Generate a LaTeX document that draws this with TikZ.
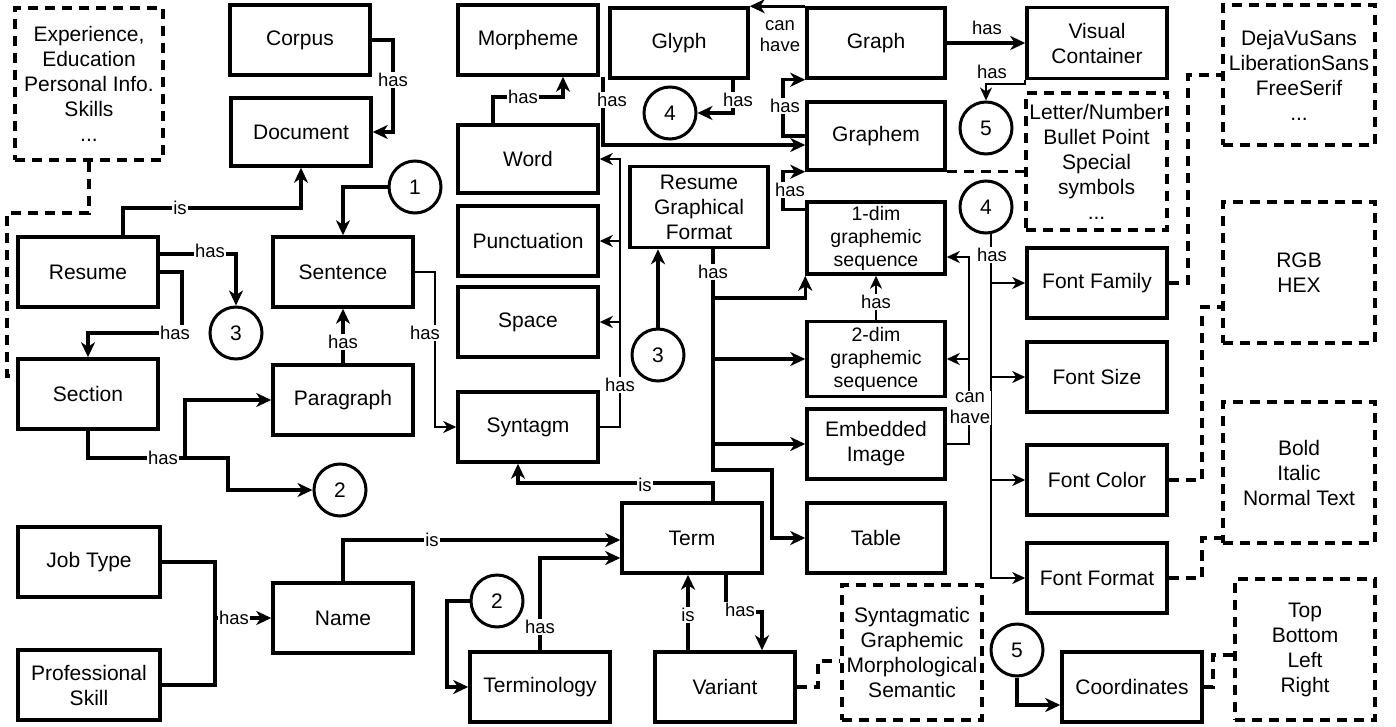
\documentclass[tikz,border=0pt]{standalone}
\usepackage{fontspec}
\setmainfont{Liberation Sans}
\usetikzlibrary{arrows.meta}
\newcommand{\boxfont}{\fontsize{21}{25}\selectfont}
\newcommand{\sboxfont}{\fontsize{19.5}{23}\selectfont}
\newcommand{\labfont}{\fontsize{18.5}{21}\selectfont}
\tikzset{
 box/.style={draw, line width=3.5pt, minimum width=140pt, minimum height=70pt, align=center, font=\boxfont, inner sep=2pt},
 dbox/.style={box, dash pattern=on 10pt off 7pt},
 circ/.style={draw, circle, line width=3pt, minimum size=52pt, inner sep=0pt, font=\boxfont},
 conn/.style={line width=3.2pt, -{Stealth[length=15pt,width=14pt,inset=4.5pt]}},
 thinconn/.style={line width=2.4pt, -{Stealth[length=13pt,width=12pt,inset=4pt]}},
 dline/.style={line width=3.5pt, dash pattern=on 10pt off 7pt},
 lab/.style={fill=white, inner sep=1pt, font=\labfont, align=center},
 plainlab/.style={inner sep=0pt, font=\labfont, align=center},
}
\begin{document}
\begin{tikzpicture}[x=1pt,y=-1pt]
\useasboundingbox (0,0) rectangle (1396,727);
% boxes
\node[dbox, minimum width=148pt, minimum height=152pt] (exp) at (89,84) {Experience,\\Education\\Personal Info.\\Skills\\...};
\node[box] (corpus) at (300,40) {Corpus};
\node[box, minimum height=68pt] (document) at (301,132) {Document};
\node[box] (resume) at (88,272) {Resume};
\node[box] (section) at (88,394) {Section};
\node[box] (sentence) at (343,272) {Sentence};
\node[box] (paragraph) at (343,400) {Paragraph};
\node[box] (morpheme) at (528,40) {Morpheme};
\node[box, minimum height=68pt] (word) at (528,159) {Word};
\node[box] (punct) at (528,241) {Punctuation};
\node[box] (space) at (528,322) {Space};
\node[box] (syntagm) at (528,427) {Syntagm};
\node[box, minimum width=138pt] (glyph) at (679,43) {Glyph};
\node[box, minimum width=138pt] (graph) at (876,43) {Graph};
\node[box, minimum width=138pt, minimum height=68pt] (graphem) at (876,136) {Graphem};
\node[box, minimum width=138pt, minimum height=81pt] (rgf) at (699,207) {Resume\\Graphical\\Format};
\node[box, minimum width=138pt, minimum height=72pt, font=\sboxfont] (onedim) at (876,238) {1-dim\\graphemic\\sequence};
\node[box, minimum width=138pt, minimum height=75pt, font=\sboxfont] (twodim) at (876,359) {2-dim\\graphemic\\sequence};
\node[box, minimum width=138pt] (embedded) at (876,444) {Embedded\\Image};
\node[box, minimum width=138pt] (table) at (876,538) {Table};
\node[box] (term) at (692,538) {Term};
\node[box] (variant) at (725,687) {Variant};
\node[box] (terminology) at (540,687) {Terminology};
\node[box] (name) at (343,618) {Name};
\node[box, minimum width=142pt] (jobtype) at (89,562) {Job Type};
\node[box, minimum width=142pt] (profskill) at (89,685) {Professional\\Skill};
\node[box, minimum height=71pt] (vc) at (1097,43) {Visual\\Container};
\node[box] (fontfamily) at (1097,283) {Font Family};
\node[box] (fontsize) at (1097,377) {Font Size};
\node[box] (fontcolor) at (1097,480) {Font Color};
\node[box] (fontformat) at (1097,578) {Font Format};
\node[box] (coordinates) at (1132,687) {Coordinates};
\node[dbox, minimum width=141pt, minimum height=137pt] (letter) at (1096.5,161.5) {Letter/Number\\Bullet Point\\Special\\symbols\\...};
\node[dbox, minimum width=152pt, minimum height=140pt] (dejavu) at (1299,75) {DejaVuSans\\LiberationSans\\FreeSerif\\...};
\node[dbox, minimum width=152pt, minimum height=141pt] (rgb) at (1299,272.5) {RGB\\HEX};
\node[dbox, minimum width=152pt, minimum height=141pt] (bold) at (1299,472.5) {Bold\\Italic\\Normal Text};
\node[dbox, minimum width=140pt, minimum height=141pt] (topbox) at (1305,649.5) {Top\\Bottom\\Left\\Right};
\node[dbox, minimum width=140pt, minimum height=135pt] (syntagmatic) at (912,652.5) {Syntagmatic\\Graphemic\\Morphological\\Semantic};
% circles
\node[circ] (c1) at (415,187) {1};
\node[circ] (c3a) at (236,333) {3};
\node[circ] (c2a) at (340,490) {2};
\node[circ] (c4a) at (670,113) {4};
\node[circ] (c3b) at (658,355) {3};
\node[circ] (c5a) at (986,128) {5};
\node[circ] (c4b) at (986,207) {4};
\node[circ] (c2b) at (497,601) {2};
\node[circ] (c5b) at (1017,650) {5};
% connectors
\draw[conn] (corpus.east) -| (393,100) |- (document.east);
\draw[conn] ([xshift=35pt]resume.north) |- (200,208) -| (document.south);
\draw[conn] ([yshift=18pt]resume.east) -| (c3a.north);
\draw[conn] (resume.east) -| (182,333) -| (section.north);
\coordinate (sj) at (185,458);
\draw[conn] (section.south) |- (sj) |- (paragraph.west);
\draw[conn] (sj) -| (228,470) |- (c2a.west);
\draw[conn] (paragraph.north) -- (sentence.south);
\draw[conn] (c1.west) -| (sentence.north);
\draw[thinconn] (sentence.east) -| (435,400) |- (syntagm.west);
\draw[dline] (exp.south) |- (50,213) -| (7,300) |- ([yshift=18pt]section.west);
\draw[conn] ([xshift=-35pt]word.north) |- (530,97) -| ([xshift=35pt]morpheme.south);
\draw[conn] ([xshift=75pt]morpheme.south) |- ([yshift=-9pt]graphem.west);
\draw[conn] ([xshift=54pt]glyph.south) |- (c4a.east);
\draw[conn] (graph.north west) -- (glyph.north east);
\draw[conn] (graph.east) -- (vc.west);
\draw[thinconn] (vc.south west) -- ++(0,4) -| (c5a.north);
\draw[conn] (graphem.west) -| (783,100) |- (graph.south west);
\draw[conn] ([yshift=-9pt]onedim.north west) -| (783,190) |- (graphem.south west);
\draw[dline] (graphem.south east) -- (letter.west |- graphem.south east);
\coordinate (rv) at (713,298);
\draw[conn] ([xshift=14pt]rgf.south) |- (760,298) -| (onedim.south west);
\draw[conn] (rv) |- (twodim.west);
\draw[conn] (rv) |- (embedded.west);
\draw[conn] (rv) |- (760,470) -| (772,510) |- (table.west);
\coordinate (ch) at (969,359);
\draw[thinconn] (embedded.east) -| (ch) |- ([yshift=-19pt]onedim.east);
\draw[thinconn] (ch) -- (twodim.east);
\draw[thinconn] (twodim.north) -- (onedim.south);
\coordinate (fv) at ([xshift=5pt]c4b.south);
\draw[thinconn] (fv) |- (fontfamily.west);
\draw[thinconn] (fv) |- (fontsize.west);
\draw[thinconn] (fv) |- (fontcolor.west);
\draw[thinconn] (fv) |- (fontformat.west);
\draw[dline] (fontfamily.east) -| (1188,150) |- (dejavu.west);
\draw[dline] (fontcolor.east) -| (1202,400) |- ([yshift=-34.5pt]rgb.west);
\draw[dline] (fontformat.east) -| (1202,560) |- ([yshift=-65.5pt]bold.west);
\draw[dline] (coordinates.east) -| (1213,670) |- ([yshift=-5.5pt]topbox.west);
\draw[dline] (variant.east) -| (818,670) |- ([yshift=-8.5pt]syntagmatic.west);
\draw[conn] (c5b.south) |- ([yshift=-18pt]coordinates.west);
\draw[conn] ([xshift=21pt]term.north) |- (600,483) -| ([xshift=-10pt]syntagm.south);
\draw[conn] (name.north) |- ([yshift=-2pt]term.west);
\draw[conn] (terminology.north) |- ([yshift=-20pt]term.west);
\draw[conn] (c2b.west) -| (447,650) |- (terminology.west);
\draw[conn] ([xshift=-37pt]variant.north) -- ([xshift=-4pt]term.south);
\draw[conn] ([xshift=34pt]term.south) |- (745,612) -| ([xshift=37pt]variant.north);
\draw[conn] (jobtype.east) -| (215,590) |- (name.west);
\draw[line width=3.2pt] (profskill.east) -| (215,618);
\draw[conn] (c3b.north) -- (c3b.north |- rgf.south);
\coordinate (sh) at (620,427);
\draw[thinconn] (syntagm.east) -| (620,300) |- (word.east);
\draw[thinconn] (sh) |- (punct.east);
\draw[thinconn] (sh) |- (space.east);
% labels
\node[lab] at (393,80) {has};
\node[lab] at (180,208) {is};
\node[lab] at (210,251) {has};
\node[lab] at (175,333) {has};
\node[lab] at (163,458) {has};
\node[lab] at (343,342) {has};
\node[lab] at (425,333) {has};
\node[lab] at (523,97) {has};
\node[lab] at (612,100) {has};
\node[lab] at (738,100) {has};
\node[plainlab] at (780,36) {can\\have};
\node[plainlab] at (987,28) {has};
\node[plainlab] at (992,72) {has};
\node[lab] at (785,106) {has};
\node[lab] at (790,190) {has};
\node[lab] at (713,272) {has};
\node[lab] at (970,408) {can\\have};
\node[lab] at (876,302) {has};
\node[lab] at (992,255) {has};
\node[lab] at (620,385) {has};
\node[lab] at (645,485) {is};
\node[lab] at (432,540) {is};
\node[lab] at (540,627) {has};
\node[lab] at (688,615) {is};
\node[lab] at (740,610) {has};
\node[lab] at (234,618) {has};
\end{tikzpicture}
\end{document}
